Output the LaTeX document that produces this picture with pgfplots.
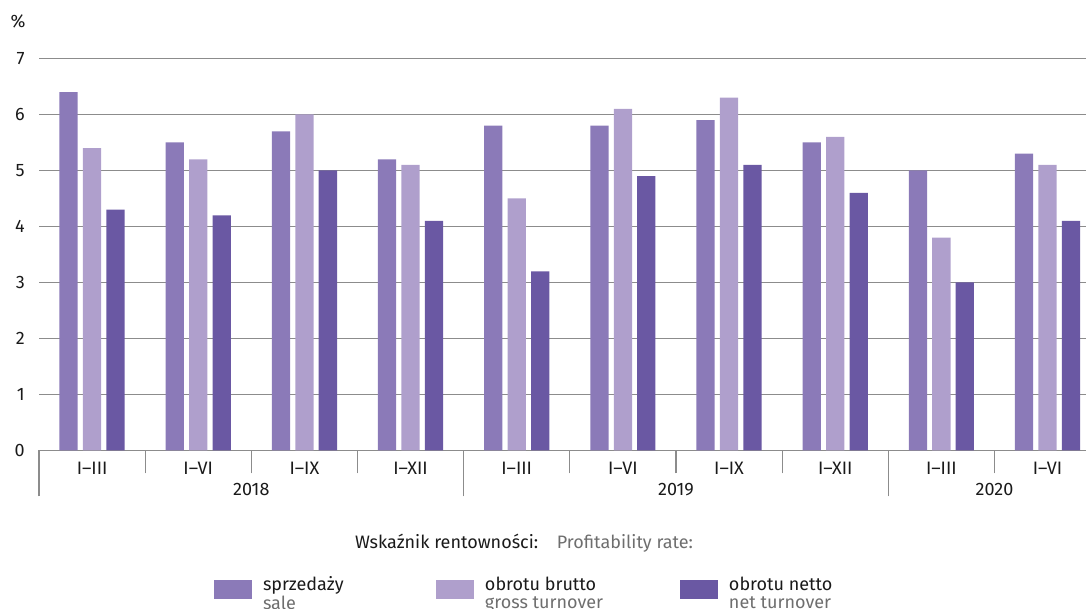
\documentclass[border=0pt]{standalone}
\usepackage{fontspec}
\setmainfont{Fira Sans}
\usepackage{pgfplots}
\pgfplotsset{compat=1.18}
\definecolor{csale}{HTML}{8B7AB8}
\definecolor{cgross}{HTML}{AF9FCC}
\definecolor{cnet}{HTML}{6A58A3}
\definecolor{cgrid}{HTML}{8C8C8C}
\definecolor{cen}{HTML}{6E6E6E}
\definecolor{ctxt}{HTML}{1A1A1A}
\pgfplotsset{myleg/.style={legend image code/.code={\fill[##1] (0pt,-7.1pt) rectangle (28.5pt,7.1pt);}}}
\begin{document}
\begin{tikzpicture}[font=\fontsize{13.5}{13.5}\selectfont\color{ctxt}]
\path[use as bounding box] (-29.25pt,-118.875pt) rectangle (785.25pt,337.875pt);
\begin{axis}[
  at={(0,0)}, anchor=south west,
  scale only axis, width=796.2pt, height=294pt,
  clip=false,
  ybar=3.9pt, bar width=13.7pt,
  xmin=-0.5, xmax=9.5, ymin=0, ymax=7,
  ytick={0,...,7},
  xtick={0,...,9},
  xticklabels={I–III,I–VI,I–IX,I–XII,I–III,I–VI,I–IX,I–XII,I–III,I–VI},
  /pgf/number format/assume math mode=true,
  axis line style={draw=none},
  ymajorgrids, grid style={cgrid, line width=0.8pt},
  major tick length=0pt,
  minor xtick={0.5,1.5,2.5,4.5,5.5,6.5,8.5},
  minor tick length=17.1pt,
  tick align=outside,
  tick pos=left,
  tick style={cgrid, line width=0.8pt},
  extra x ticks={-0.5,3.5,7.5},
  extra x tick labels={},
  extra x tick style={major tick length=34.4pt, tick style={cgrid, line width=0.8pt}},
  yticklabel style={inner sep=0pt, anchor=east, xshift=-10.5pt},
  xticklabel style={inner sep=0pt, anchor=north, yshift=-8.4pt},
  legend style={at={(rel axis cs:0,0)}, anchor=north west, xshift=131.25pt, yshift=-94.5pt,
    draw=none, fill=none, inner sep=0pt, outer sep=0pt, legend columns=3,
    nodes={inner sep=0pt},
    /tikz/every odd column/.style={column sep=8.25pt},
    /tikz/every even column/.style={column sep=0pt}},
  legend cell align=left,
]
\addplot[fill=csale, draw=none, myleg] coordinates {(0,6.4) (1,5.5) (2,5.7) (3,5.2) (4,5.8) (5,5.8) (6,5.9) (7,5.5) (8,5.0) (9,5.3)};
\addlegendentry{\makebox[129.75pt][l]{\begin{tabular}{@{}l@{}}sprzedaży\\\textcolor{cen}{sale}\end{tabular}}}
\addplot[fill=cgross, draw=none, myleg] coordinates {(0,5.4) (1,5.2) (2,6.0) (3,5.1) (4,4.5) (5,6.1) (6,6.3) (7,5.6) (8,3.8) (9,5.1)};
\addlegendentry{\makebox[146.25pt][l]{\begin{tabular}{@{}l@{}}obrotu brutto\\\textcolor{cen}{gross turnover}\end{tabular}}}
\addplot[fill=cnet, draw=none, myleg] coordinates {(0,4.3) (1,4.2) (2,5.0) (3,4.1) (4,3.2) (5,4.9) (6,5.1) (7,4.6) (8,3.0) (9,4.1)};
\addlegendentry{\begin{tabular}{@{}l@{}}obrotu netto\\\textcolor{cen}{net turnover}\end{tabular}}
\node[anchor=north, inner sep=0pt, yshift=-24.2pt] at (axis cs:1.5,0) {2018};
\node[anchor=north, inner sep=0pt, yshift=-24.2pt] at (axis cs:5.5,0) {2019};
\node[anchor=north, inner sep=0pt, yshift=-24.2pt] at (axis cs:8.5,0) {2020};
\node[inner sep=0pt, xshift=-15.75pt, yshift=28.1pt] at (rel axis cs:0,1) {\%};
\node[inner sep=0pt, xshift=363.75pt, yshift=-69.4pt] at (rel axis cs:0,0) {Wskaźnik rentowności:\hspace{14pt}\textcolor{cen}{Profitability rate:}};
\end{axis}
\end{tikzpicture}
\end{document}
